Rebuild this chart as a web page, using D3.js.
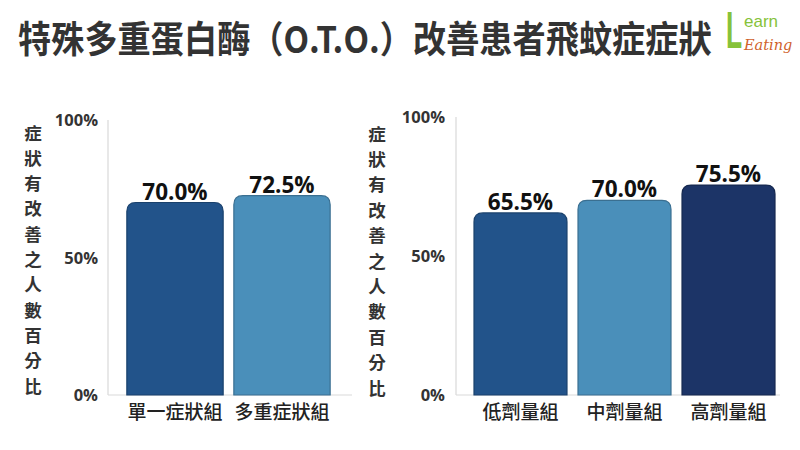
<!DOCTYPE html>
<html><head><meta charset="utf-8">
<script src="https://cdn.jsdelivr.net/npm/d3@7"></script>
<style>
html,body{margin:0;padding:0;background:#fff;}
svg{display:block;}
</style></head>
<body>
<svg id="chart" width="800" height="450"></svg>
<script>
const titleText = '特殊多重蛋白酶（O.T.O.）改善患者飛蚊症症狀';
const yAxisTitle = ['症','狀','有','改','善','之','人','數','百','分','比'];
const yTicks = [0, 50, 100];
const leftCategories = ['單一症狀組', '多重症狀組'];
const leftValues = [70.0, 72.5];
const leftColors = ['#22538a', '#4a8fba'];
const rightCategories = ['低劑量組', '中劑量組', '高劑量組'];
const rightValues = [65.5, 70.0, 75.5];
const rightColors = ['#22538a', '#4a8fba', '#1c3467'];

const svg = d3.select('#chart');
const cjk = '"Noto Sans CJK TC","Noto Sans CJK SC",sans-serif';
const num = '"Open Sans","Noto Sans",sans-serif';

// Title (condensed via horizontal scale so its box ends where the glyphs end)
const title = svg.append('text').attr('x', 0).attr('y', 0)
  .attr('font-family', cjk).attr('font-weight', 700).attr('font-size', 37)
  .attr('fill', '#333').text(titleText);
const tw = title.node().getComputedTextLength();
title.attr('transform', `translate(18,53) scale(${694 / tw},1)`);

// Logo
svg.append('text').attr('transform', 'translate(726,47.5) scale(1.2,2.33)')
  .attr('font-family', '"Liberation Sans",sans-serif').attr('font-weight', 700)
  .attr('font-size', 22).attr('fill', '#86c23a').text('L');
svg.append('text').attr('x', 744).attr('y', 27).attr('font-family', '"Liberation Sans",sans-serif')
  .attr('font-size', 17).attr('fill', '#86c23a').text('earn');
svg.append('text').attr('x', 744).attr('y', 50).attr('font-family', '"DejaVu Serif",serif')
  .attr('font-style', 'italic').attr('font-size', 14.5).attr('fill', '#d0622b').text('Eating');

function roundedTop(x, y, w, h, r) {
  r = Math.min(r, h, w / 2);
  return `M${x},${y + h}V${y + r}Q${x},${y} ${x + r},${y}H${x + w - r}Q${x + w},${y} ${x + w},${y + r}V${y + h}Z`;
}

function drawPanel(opts) {
  const { cats, vals, colors, axisX, top, base, xRange, padInner, baseEnd, titleX, titleY0, titleStep, tickRight } = opts;
  const g = svg.append('g');
  const y = d3.scaleLinear().domain([0, 100]).range([base, top]);
  const x = d3.scaleBand().domain(cats).range(xRange).paddingInner(padInner).paddingOuter(0.05);

  g.append('line').attr('x1', axisX).attr('x2', axisX).attr('y1', top).attr('y2', base)
    .attr('stroke', '#d9d9d9').attr('stroke-width', 1.2);
  g.append('line').attr('x1', axisX).attr('x2', baseEnd).attr('y1', base).attr('y2', base)
    .attr('stroke', '#d9d9d9').attr('stroke-width', 1.2);

  const ax = g.append('g').attr('transform', `translate(${tickRight},0)`)
    .call(d3.axisLeft(y).tickValues(yTicks).tickSize(0).tickPadding(0).tickFormat(d => d + '%'));
  ax.select('.domain').remove();
  ax.selectAll('text').attr('font-family', num).attr('font-weight', 700).attr('font-size', 16.5)
    .attr('fill', '#333').attr('dy', '0.35em').attr('x', 0);

  g.selectAll('.yt').data(yAxisTitle).enter().append('text')
    .attr('x', titleX).attr('y', (d, i) => titleY0 + i * titleStep)
    .attr('text-anchor', 'middle').attr('dominant-baseline', 'central')
    .attr('font-family', cjk).attr('font-weight', 700).attr('font-size', 17.5).attr('fill', '#333')
    .text(d => d);

  g.selectAll('.bar').data(vals).enter().append('path')
    .attr('d', (d, i) => roundedTop(x(cats[i]), y(d), x.bandwidth(), base - y(d), 9))
    .attr('fill', (d, i) => colors[i])
    .attr('stroke', (d, i) => d3.color(colors[i]).darker(0.7))
    .attr('stroke-width', 1.2);

  g.selectAll('.vl').data(vals).enter().append('text')
    .attr('x', (d, i) => x(cats[i]) + x.bandwidth() / 2).attr('y', d => y(d) - 3)
    .attr('text-anchor', 'middle').attr('font-family', num).attr('font-weight', 700)
    .attr('font-size', 22.5).attr('fill', '#111').text(d => d.toFixed(1) + '%');

  g.selectAll('.cl').data(cats).enter().append('text')
    .attr('x', d => x(d) + x.bandwidth() / 2).attr('y', base + 24)
    .attr('text-anchor', 'middle').attr('font-family', cjk).attr('font-weight', 500)
    .attr('font-size', 19).attr('fill', '#222').text(d => d);
}

drawPanel({ cats: leftCategories, vals: leftValues, colors: leftColors, axisX: 108, top: 120, base: 395,
  xRange: [121.5, 335.5], padInner: 0.1, baseEnd: 352, titleX: 33, titleY0: 132, titleStep: 25.3, tickRight: 98 });
drawPanel({ cats: rightCategories, vals: rightValues, colors: rightColors, axisX: 456, top: 117, base: 395,
  xRange: [468.8, 780.2], padInner: 0.106, baseEnd: 780, titleX: 377, titleY0: 133, titleStep: 25.4, tickRight: 445 });
</script>
</body></html>
